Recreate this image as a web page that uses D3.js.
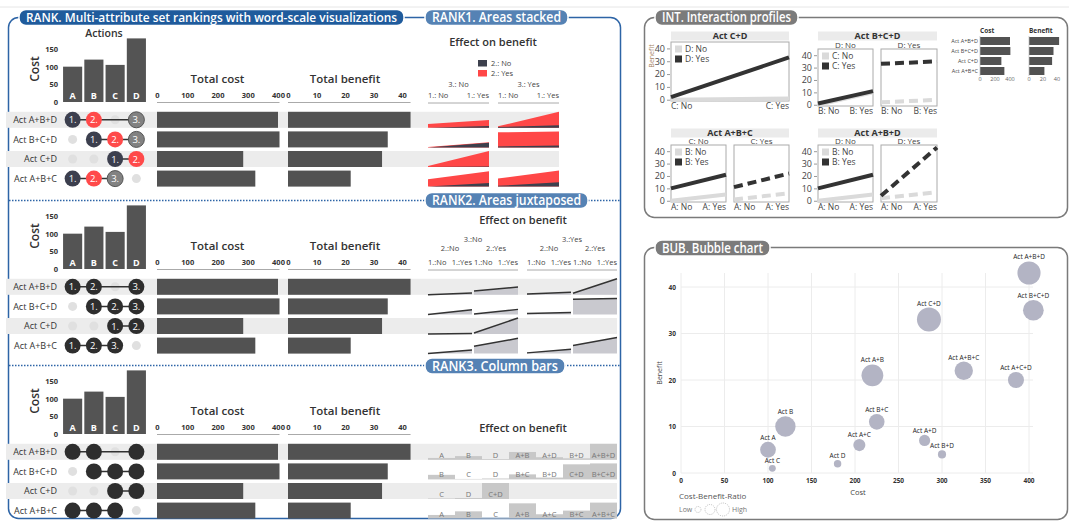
<!DOCTYPE html>
<meta charset="utf-8">
<style type="text/css">
  body { margin: 0; background: #fff; }
  svg { display: block; font-family: "Open Sans", sans-serif; }
</style>
<body>
<script src="https://cdn.jsdelivr.net/npm/d3@7"></script>
<script>
// ---- data ----
var actions = ["A", "B", "C", "D"];
var actionCost = [100, 120, 105, 180];

var combos = ["Act A", "Act B", "Act C", "Act D", "Act A+B", "Act A+C", "Act B+C", "Act A+D",
              "Act B+D", "Act C+D", "Act A+B+C", "Act A+C+D", "Act A+B+D", "Act B+C+D"];
var comboCost    = [100, 120, 105, 180, 220, 205, 225, 280, 300, 285, 325, 385, 400, 405];
var comboBenefit = [5, 10, 1, 2, 21, 6, 11, 7, 4, 33, 22, 20, 43, 35];

var ranked = ["Act A+B+D", "Act B+C+D", "Act C+D", "Act A+B+C"];
var rankedActions = [["A", "B", "D"], ["B", "C", "D"], ["C", "D"], ["A", "B", "C"]];

var actionCostTicks = [0, 50, 100, 150];
var costTicks = [0, 100, 200, 300, 400];
var benefitTicks = [0, 10, 20, 30, 40];

// interaction profiles: title, x-factor, line-factor, panel-factor
var intTitles = ["Act C+D", "Act B+C+D", "Act A+B+C", "Act A+B+D"];
var intX      = ["C", "B", "A", "A"];
var intLine   = ["D", "C", "B", "B"];
var intPanel  = [null, "D", "C", "D"];

var bubbleXTicks = [0, 50, 100, 150, 200, 250, 300, 350, 400];
var bubbleYTicks = [0, 10, 20, 30, 40];

function lookup(set, arr) {
  if (!set.length) return 0;
  var name = "Act " + set.slice().sort().join("+");
  return arr[combos.indexOf(name)];
}
function benefitOf(set) { return lookup(set, comboBenefit); }
function costOf(set) { return lookup(set, comboCost); }

var svg = d3.select("body").append("svg")
  .attr("width", 1069).attr("height", 521)
  .style("fill", "#333");

// top rule
svg.append("line").attr("x1", 0).attr("x2", 1069).attr("y1", 7).attr("y2", 7)
  .attr("stroke", "#e6e6e6");

// ---- frames ----
svg.append("rect").attr("x", 8.5).attr("y", 17.5).attr("width", 612).attr("height", 501)
  .attr("rx", 10).attr("fill", "none").attr("stroke", "#2d64a6").attr("stroke-width", 1.5);
svg.append("rect").attr("x", 644.5).attr("y", 17.5).attr("width", 423).attr("height", 200)
  .attr("rx", 10).attr("fill", "none").attr("stroke", "#7a7a7a").attr("stroke-width", 1.5);
svg.append("rect").attr("x", 644.5).attr("y", 247.5).attr("width", 423).attr("height", 272)
  .attr("rx", 10).attr("fill", "none").attr("stroke", "#7a7a7a").attr("stroke-width", 1.5);

[200.5, 365.5].forEach(function(y){
  svg.append("line").attr("x1", 9).attr("x2", 620).attr("y1", y).attr("y2", y)
    .attr("stroke", "#2d64a6").attr("stroke-width", 1.5).attr("stroke-dasharray", "1.5,1.5");
});

function pill(x, y, w, label, fill, size) {
  svg.append("rect").attr("x", x).attr("y", y).attr("width", w).attr("height", 16)
    .attr("rx", 7).attr("fill", fill).attr("stroke", "#fff").attr("stroke-width", 1.5);
  svg.append("text").attr("x", x + w / 2).attr("y", y + 12.5)
    .attr("text-anchor", "middle").style("fill", "#fff")
    .style("font-size", size + "px").style("font-weight", 600)
    .attr("textLength", w - 14).attr("lengthAdjust", "spacingAndGlyphs")
    .text(label);
}

// ---- RANK sections ----
function drawRank(mode, B) {
  var g = svg.append("g");
  var rowY = d3.scaleBand().domain(ranked).range([B + 8, B + 86.4]);
  var cy = function(i){ return rowY(ranked[i]) + rowY.bandwidth() / 2; };
  var stripeEnd = mode === 1 ? 559 : 617;

  ranked.forEach(function(r, i){
    if (i % 2 === 0)
      g.append("rect").attr("x", 6).attr("y", cy(i) - 8).attr("width", stripeEnd - 6)
        .attr("height", 16).attr("fill", "#ececec");
  });

  // actions bar chart
  var ax = d3.scaleBand().domain(actions).range([62, 147]).paddingInner(0.1).paddingOuter(0.05);
  var ay = d3.scaleLinear().domain([0, 150]).range([B, B - 53]);
  if (mode === 1)
    g.append("text").attr("x", 104).attr("y", 36.5).attr("text-anchor", "middle")
      .style("font-size", "10.5px").style("font-weight", 600).text("Actions");
  g.selectAll(".abar").data(actions).enter().append("rect")
    .attr("x", function(d){ return ax(d); })
    .attr("y", function(d, i){ return ay(actionCost[i]); })
    .attr("width", ax.bandwidth())
    .attr("height", function(d, i){ return ay(0) - ay(actionCost[i]); })
    .attr("fill", "#545454");
  g.selectAll(".alab").data(actions).enter().append("text")
    .attr("x", function(d){ return ax(d) + ax.bandwidth() / 2; })
    .attr("y", B - 3).attr("text-anchor", "middle")
    .style("fill", "#fff").style("font-size", "9px").style("font-weight", 700)
    .text(function(d){ return d; });
  g.selectAll(".atick").data(actionCostTicks).enter().append("text")
    .attr("x", 58).attr("y", function(d){ return ay(d) + 3; })
    .attr("text-anchor", "end").style("font-size", "7.5px").style("font-weight", 700)
    .text(function(d){ return d; });
  g.append("text").attr("transform", "translate(39," + (B - 33) + ") rotate(-90)")
    .attr("text-anchor", "middle").style("font-size", "12px").style("font-weight", 600)
    .text("Cost");

  // total cost / benefit
  var cx = d3.scaleLinear().domain([0, 400]).range([157, 278]);
  var bx = d3.scaleLinear().domain([0, 40]).range([288, 402]);
  var maxCost = d3.max(rankedActions, costOf), maxBen = d3.max(rankedActions, benefitOf);
  [[cx, costTicks, "Total cost", maxCost, costOf], [bx, benefitTicks, "Total benefit", maxBen, benefitOf]]
    .forEach(function(c){
      var sc = c[0];
      var axis = g.append("g").attr("transform", "translate(0," + B + ")")
        .call(d3.axisTop(sc).tickValues(c[1]).tickSize(0).tickPadding(4));
      axis.select(".domain").remove();
      axis.selectAll("text").style("font-size", "7.5px").style("font-weight", 700)
        .style("font-family", "Open Sans, sans-serif").attr("fill", "#333");
      g.append("line").attr("x1", sc(0)).attr("x2", sc(c[3])).attr("y1", B + 0.5).attr("y2", B + 0.5)
        .attr("stroke", "#aaa");
      g.append("text").attr("x", (sc.range()[0] + sc.range()[1]) / 2).attr("y", B - 19)
        .attr("text-anchor", "middle").style("font-size", "11.5px").style("font-weight", 600)
        .text(c[2]);
      g.selectAll(null).data(rankedActions).enter().append("rect")
        .attr("x", sc(0)).attr("y", function(d, i){ return cy(i) - 8; })
        .attr("width", function(d){ return sc(c[4](d)) - sc(0); })
        .attr("height", 16).attr("fill", "#525252");
    });

  // row labels
  g.selectAll(".rlab").data(ranked).enter().append("text")
    .attr("x", 57).attr("y", function(d, i){ return cy(i) + 3.2; })
    .attr("text-anchor", "end").style("font-size", "9px").text(function(d){ return d; });

  // ranking circles
  var rankFill = mode === 1 ? ["#3c3f4e", "#ff4a4a", "#828282"] : ["#2e2e2e", "#2e2e2e", "#2e2e2e"];
  rankedActions.forEach(function(acts, i){
    var xs = acts.map(function(a){ return ax(a) + ax.bandwidth() / 2; });
    actions.forEach(function(a){
      if (acts.indexOf(a) < 0)
        g.append("circle").attr("cx", ax(a) + ax.bandwidth() / 2).attr("cy", cy(i))
          .attr("r", 4.5).attr("fill", "#e0e0e0");
    });
    g.append("line").attr("x1", d3.min(xs)).attr("x2", d3.max(xs))
      .attr("y1", cy(i)).attr("y2", cy(i)).attr("stroke", "#333").attr("stroke-width", 1.5);
    acts.forEach(function(a, k){
      g.append("circle").attr("cx", xs[k]).attr("cy", cy(i)).attr("r", 8)
        .attr("fill", rankFill[k])
        .attr("stroke", mode === 1 && k === 2 ? "#555" : "none");
      if (mode !== 3)
        g.append("text").attr("x", xs[k]).attr("y", cy(i) + 3.5).attr("text-anchor", "middle")
          .style("fill", "#fff").style("font-size", "9.5px").text((k + 1) + ".");
    });
  });

  // effect on benefit
  var small = function(sel){ return sel.style("font-size", "7.5px").style("fill", "#444"); };
  if (mode === 1) {
    g.append("text").attr("x", 493).attr("y", B - 56).attr("text-anchor", "middle")
      .style("font-size", "11px").style("font-weight", 600).text("Effect on benefit");
    [["#3d404d", "2.: No"], ["#ff4747", "2.: Yes"]].forEach(function(l, k){
      g.append("rect").attr("x", 478).attr("y", B - 42 + k * 10).attr("width", 9).attr("height", 6.5)
        .attr("fill", l[0]);
      small(g.append("text").attr("x", 491).attr("y", B - 36 + k * 10)).text(l[1]);
    });
    var panels = [[428, 489], [498, 559]];
    panels.forEach(function(p, k){
      small(g.append("text").attr("x", (p[0] + p[1]) / 2).attr("y", B - 15).attr("text-anchor", "middle"))
        .text(k ? "3.: Yes" : "3.: No");
      small(g.append("text").attr("x", p[0]).attr("y", B - 4)).text("1.: No");
      small(g.append("text").attr("x", p[1]).attr("y", B - 4).attr("text-anchor", "end")).text("1.: Yes");
      g.append("line").attr("x1", p[0]).attr("x2", p[1]).attr("y1", B + 1).attr("y2", B + 1)
        .attr("stroke", "#aaa");
    });
    rankedActions.forEach(function(acts, i){
      var ey = d3.scaleLinear().domain([0, benefitOf(acts)]).range([cy(i) + 8, cy(i) - 8]);
      var nPanels = acts.length === 3 ? 2 : 1;
      for (var k = 0; k < nPanels; k++) {
        var base = k ? [acts[2]] : [];
        var ex = d3.scalePoint().domain([0, 1]).range(panels[k]);
        var area = d3.area().x(function(d, j){ return ex(j); }).y0(ey(0)).y1(function(d){ return ey(d); });
        var yes = [benefitOf(base.concat([acts[1]])), benefitOf(base.concat([acts[0], acts[1]]))];
        var no = [benefitOf(base), benefitOf(base.concat([acts[0]]))];
        g.append("path").attr("d", area(yes)).attr("fill", "#ff4747");
        g.append("path").attr("d", area(no)).attr("fill", "#3d404d");
      }
    });
  } else if (mode === 2) {
    g.append("text").attr("x", 523).attr("y", B - 45).attr("text-anchor", "middle")
      .style("font-size", "11px").style("font-weight", 600).text("Effect on benefit");
    var panels2 = [[428, 472], [474, 518], [527, 571], [573, 617]];
    [[428, 518], [527, 617]].forEach(function(p, k){
      small(g.append("text").attr("x", (p[0] + p[1]) / 2).attr("y", B - 27).attr("text-anchor", "middle"))
        .text(k ? "3.:Yes" : "3.:No");
      g.append("line").attr("x1", p[0]).attr("x2", p[1]).attr("y1", B + 1).attr("y2", B + 1)
        .attr("stroke", "#aaa");
    });
    panels2.forEach(function(p, k){
      small(g.append("text").attr("x", (p[0] + p[1]) / 2).attr("y", B - 18).attr("text-anchor", "middle"))
        .text(k % 2 ? "2.:Yes" : "2.:No");
      small(g.append("text").attr("x", p[0]).attr("y", B - 4)).text("1.:No");
      small(g.append("text").attr("x", p[1]).attr("y", B - 4).attr("text-anchor", "end")).text("1.:Yes");
    });
    rankedActions.forEach(function(acts, i){
      var ey = d3.scaleLinear().domain([0, benefitOf(acts)]).range([cy(i) + 8, cy(i) - 8]);
      var nPanels = acts.length === 3 ? 4 : 2;
      for (var k = 0; k < nPanels; k++) {
        var base = (k > 1 ? [acts[2]] : []).concat(k % 2 ? [acts[1]] : []);
        var vals = [benefitOf(base), benefitOf(base.concat([acts[0]]))];
        var ex = d3.scalePoint().domain([0, 1]).range(panels2[k]);
        var area = d3.area().x(function(d, j){ return ex(j); }).y0(ey(0)).y1(function(d){ return ey(d); });
        var line = d3.line().x(function(d, j){ return ex(j); }).y(function(d){ return ey(d); });
        g.append("path").attr("d", area(vals)).attr("fill", "#c9c9cf");
        g.append("path").attr("d", line(vals)).attr("fill", "none")
          .attr("stroke", "#333").attr("stroke-width", 1.5);
      }
    });
  } else {
    g.append("text").attr("x", 523).attr("y", B - 2).attr("text-anchor", "middle")
      .style("font-size", "11px").style("font-weight", 600).text("Effect on benefit");
    var cellX = d3.scaleBand().domain(d3.range(7)).range([428, 617]);
    rankedActions.forEach(function(acts, i){
      var subs = acts.map(function(a){ return [a]; });
      for (var a = 0; a < acts.length; a++)
        for (var b = a + 1; b < acts.length; b++) subs.push([acts[a], acts[b]]);
      if (acts.length === 3) subs.push(acts.slice());
      var ey = d3.scaleLinear().domain([0, benefitOf(acts)]).range([cy(i) + 8, cy(i) - 8]);
      subs.forEach(function(s, k){
        g.append("rect").attr("x", cellX(k)).attr("y", ey(benefitOf(s)))
          .attr("width", cellX.bandwidth()).attr("height", ey(0) - ey(benefitOf(s)))
          .attr("fill", "#c8c8c8");
        g.append("text").attr("x", cellX(k) + cellX.bandwidth() / 2).attr("y", cy(i) + 6)
          .attr("text-anchor", "middle").style("font-size", "7.5px").style("fill", "#777")
          .text(s.join("+"));
      });
    });
  }
}

drawRank(1, 102);
drawRank(2, 269);
drawRank(3, 434);

pill(19, 9.5, 385, "RANK. Multi-attribute set rankings with word-scale visualizations", "#1f5b9c", 12.5);
pill(425, 9.5, 143, "RANK1. Areas stacked", "#5582b4", 13.5);
pill(425, 192.5, 163, "RANK2. Areas juxtaposed", "#5582b4", 13.5);
pill(425, 358, 140, "RANK3. Column bars", "#5582b4", 13.5);
pill(655, 9.5, 143, "INT. Interaction profiles", "#7b7b7b", 13.5);
pill(655, 240, 115, "BUB. Bubble chart", "#7b7b7b", 13.5);

// ---- INT: interaction profiles ----
var intLayout = [
  {hx: [671, 789], hy: 31.5, boxes: [[671, 789]], by: [42, 101]},
  {hx: [818, 937], hy: 31.5, boxes: [[818, 873], [881, 937]], by: [49, 106]},
  {hx: [671, 789], hy: 128.5, boxes: [[671, 726], [734, 789]], by: [145, 202]},
  {hx: [818, 937], hy: 128.5, boxes: [[818, 873], [881, 937]], by: [145, 202]}
];
var ig = svg.append("g");
intTitles.forEach(function(title, c){
  var L = intLayout[c];
  ig.append("rect").attr("x", L.hx[0]).attr("y", L.hy).attr("width", L.hx[1] - L.hx[0])
    .attr("height", 9).attr("fill", "#ebebeb");
  ig.append("text").attr("x", (L.hx[0] + L.hx[1]) / 2).attr("y", L.hy + 7.8)
    .attr("text-anchor", "middle").style("font-size", "9px").style("font-weight", 700).text(title);
  var y = d3.scaleLinear().domain([-1, 45]).range([L.by[1], L.by[0]]);
  L.boxes.forEach(function(bx, p){
    var base = p ? [intPanel[c]] : [];
    if (intPanel[c])
      ig.append("text").attr("x", (bx[0] + bx[1]) / 2).attr("y", L.by[0] - 1.5)
        .attr("text-anchor", "middle").style("font-size", "8px").style("fill", "#444")
        .text(intPanel[c] + (p ? ": Yes" : ": No"));
    ig.append("rect").attr("x", bx[0]).attr("y", L.by[0]).attr("width", bx[1] - bx[0])
      .attr("height", L.by[1] - L.by[0]).attr("fill", "#fff").attr("stroke", "#aaa");
    var x = d3.scalePoint().domain([0, 1]).range(bx);
    [0, 1].forEach(function(lv){
      var pts = [0, 1].map(function(xv){
        return benefitOf(base.concat(xv ? [intX[c]] : [], lv ? [intLine[c]] : []));
      });
      ig.append("path")
        .attr("d", d3.line().x(function(d, j){ return x(j); }).y(function(d){ return y(d); })(pts))
        .attr("fill", "none").attr("stroke", lv ? "#333" : "#dadada").attr("stroke-width", 4)
        .attr("stroke-dasharray", p ? "9,5" : null);
    });
    ig.append("text").attr("x", bx[0]).attr("y", L.by[1] + 8)
      .style("font-size", "8.5px").style("fill", "#444").text(intX[c] + ": No");
    ig.append("text").attr("x", bx[1]).attr("y", L.by[1] + 8).attr("text-anchor", "end")
      .style("font-size", "8.5px").style("fill", "#444").text(intX[c] + ": Yes");
    if (p === 0) {
      var ax = ig.append("g").attr("transform", "translate(" + (bx[0] - 1) + ",0)")
        .call(d3.axisLeft(y).tickValues(bubbleYTicks).tickSize(3).tickPadding(2));
      ax.select(".domain").remove();
      ax.selectAll("line").attr("stroke", "#999");
      ax.selectAll("text").style("font-size", "9px").style("font-family", "Open Sans, sans-serif")
        .attr("fill", "#444");
      ["#dadada", "#333"].forEach(function(col, k){
        ig.append("rect").attr("x", bx[0] + 4).attr("y", L.by[0] + 3.5 + k * 10)
          .attr("width", 7).attr("height", 7).attr("fill", col);
        ig.append("text").attr("x", bx[0] + 14).attr("y", L.by[0] + 10 + k * 10)
          .style("font-size", "8.5px").style("fill", "#444")
          .text(intLine[c] + (k ? ": Yes" : ": No"));
      });
    }
  });
});
ig.append("text").attr("transform", "translate(654,56) rotate(-90)").attr("text-anchor", "middle")
  .style("font-size", "7px").style("fill", "#a5835f").text("Benefit");

// mini cost / benefit bars
var mRow = d3.scaleBand().domain(ranked).range([37, 75]).paddingInner(0.2);
var mCost = d3.scaleLinear().domain([0, 400]).range([980, 1010]);
var mBen = d3.scaleLinear().domain([0, 40]).range([1029, 1057]);
[[mCost, "Cost", [0, 200, 400], costOf], [mBen, "Benefit", [0, 20, 40], benefitOf]].forEach(function(m){
  var sc = m[0];
  ig.append("text").attr("x", sc(0)).attr("y", 33).style("font-size", "6.5px")
    .style("font-weight", 700).text(m[1]);
  ig.selectAll(null).data(rankedActions).enter().append("rect")
    .attr("x", sc(0)).attr("y", function(d, i){ return mRow(ranked[i]); })
    .attr("width", function(d){ return sc(m[3](d)) - sc(0); })
    .attr("height", mRow.bandwidth()).attr("fill", "#525252");
  ig.append("line").attr("x1", sc(0)).attr("x2", sc(0)).attr("y1", 36).attr("y2", 76)
    .attr("stroke", "#bbb").attr("stroke-width", 0.7);
  ig.selectAll(null).data(m[2]).enter().append("text")
    .attr("x", function(d){ return sc(d); }).attr("y", 81).attr("text-anchor", "middle")
    .style("font-size", "5.5px").style("fill", "#666").text(function(d){ return d; });
});
ig.selectAll(null).data(ranked).enter().append("text")
  .attr("x", 978).attr("y", function(d){ return mRow(d) + mRow.bandwidth() / 2 + 2; })
  .attr("text-anchor", "end").style("font-size", "5.5px").style("fill", "#444")
  .text(function(d){ return d; });

// ---- BUB: bubble chart ----
var bg = svg.append("g");
var bxs = d3.scaleLinear().domain([0, 400]).range([681, 1029]);
var bys = d3.scaleLinear().domain([0, 40]).range([473, 287]);
var ratios = combos.map(function(d, i){ return comboBenefit[i] / comboCost[i]; });
var rs = d3.scaleSqrt().domain([0, d3.max(ratios)]).range([0, 12]);
bubbleXTicks.forEach(function(t){
  bg.append("line").attr("x1", bxs(t)).attr("x2", bxs(t)).attr("y1", 273).attr("y2", 473)
    .attr("stroke", "#ececec");
  bg.append("text").attr("x", bxs(t)).attr("y", 483).attr("text-anchor", "middle")
    .style("font-size", "6.5px").style("font-weight", 700).text(t);
});
bubbleYTicks.forEach(function(t){
  bg.append("line").attr("x1", 681).attr("x2", 1033).attr("y1", bys(t)).attr("y2", bys(t))
    .attr("stroke", "#ececec");
  bg.append("text").attr("x", 676).attr("y", bys(t) + 2.5).attr("text-anchor", "end")
    .style("font-size", "6.5px").style("font-weight", 700).text(t);
});
bg.append("text").attr("x", 858).attr("y", 495).attr("text-anchor", "middle")
  .style("font-size", "7.5px").style("fill", "#444").text("Cost");
bg.append("text").attr("transform", "translate(662,373) rotate(-90)").attr("text-anchor", "middle")
  .style("font-size", "7px").style("fill", "#444").text("Benefit");
bg.selectAll(".bub").data(combos).enter().append("circle")
  .attr("cx", function(d, i){ return bxs(comboCost[i]); })
  .attr("cy", function(d, i){ return bys(comboBenefit[i]); })
  .attr("r", function(d, i){ return rs(ratios[i]); })
  .attr("fill", "#b3b4c4");
bg.selectAll(".blab").data(combos).enter().append("text")
  .attr("x", function(d, i){ return bxs(comboCost[i]); })
  .attr("y", function(d, i){ return bys(comboBenefit[i]) - rs(ratios[i]) - 2; })
  .attr("text-anchor", "middle").style("font-size", "6.5px").style("fill", "#222")
  .text(function(d){ return d; });
bg.append("text").attr("x", 679).attr("y", 499).style("font-size", "8px").style("fill", "#555")
  .text("Cost-Benefit-Ratio");
bg.append("text").attr("x", 679).attr("y", 512).style("font-size", "7px").style("fill", "#777").text("Low");
[[698, 3], [710, 5], [723, 6.5]].forEach(function(c){
  bg.append("circle").attr("cx", c[0]).attr("cy", 509.5).attr("r", c[1]).attr("fill", "none")
    .attr("stroke", "#999").attr("stroke-width", 0.6).attr("stroke-dasharray", "1,1");
});
bg.append("text").attr("x", 732).attr("y", 512).style("font-size", "7px").style("fill", "#777").text("High");
</script>
</body>
